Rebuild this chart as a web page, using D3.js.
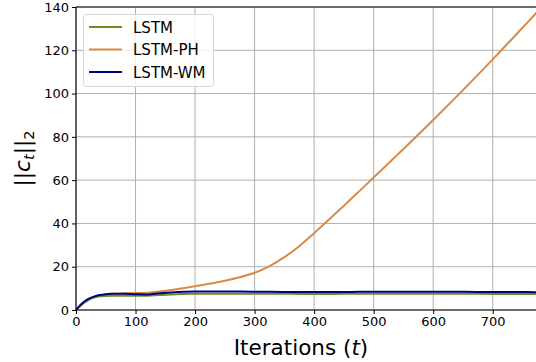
<!DOCTYPE html>
<html>
<head>
<meta charset="utf-8">
<script src="https://cdn.jsdelivr.net/npm/d3@7"></script>
<style>
  html, body { margin: 0; padding: 0; background: #fff; }
  svg { display: block; font-family: "DejaVu Sans", sans-serif; }
</style>
</head>
<body>
<svg id="chart" width="536" height="362"></svg>
<script>
// Iteration sample points
const iterations = [0, 10, 20, 30, 40, 50, 60, 80, 100, 120, 140, 160, 180, 200, 225, 250, 275, 300, 325, 350, 375, 400, 425, 450, 475, 500, 550, 600, 650, 700, 750, 775];

// ||c_t||_2 for each model
const lstm   = [0, 2.7, 4.5, 5.7, 6.3, 6.5, 6.6, 6.6, 6.6, 6.6, 6.9, 7.2, 7.4, 7.5, 7.5, 7.5, 7.5, 7.5, 7.5, 7.5, 7.4, 7.4, 7.4, 7.5, 7.5, 7.5, 7.5, 7.5, 7.5, 7.4, 7.4, 7.4];
const lstmPH = [0, 2.6, 4.6, 5.9, 6.7, 7.2, 7.5, 7.7, 7.8, 8.0, 8.5, 9.2, 10.0, 11.0, 12.2, 13.5, 15.1, 17.2, 20.3, 24.4, 29.5, 35.5, 41.8, 48.2, 54.7, 61.2, 74.4, 87.8, 101.6, 115.8, 130.4, 137.8];
const lstmWM = [0, 3.0, 5.0, 6.2, 6.9, 7.3, 7.5, 7.5, 7.3, 7.2, 7.7, 8.1, 8.4, 8.5, 8.5, 8.5, 8.5, 8.4, 8.4, 8.3, 8.3, 8.3, 8.3, 8.3, 8.4, 8.4, 8.4, 8.4, 8.4, 8.3, 8.3, 8.2];

const seriesNames = ["LSTM", "LSTM-PH", "LSTM-WM"];
const seriesColors = ["#6b8e23", "#d98a45", "#00008b"];
const xTicks = [0, 100, 200, 300, 400, 500, 600, 700];
const yTicks = [0, 20, 40, 60, 80, 100, 120, 140];

const svg = d3.select("#chart");
const margin = { left: 76, top: 7, right: 0, bottom: 52 };
const W = 536, H = 362;

const x = d3.scaleLinear().domain([0, 772.7]).range([margin.left, W - margin.right]);
const y = d3.scaleLinear().domain([0, 140]).range([H - margin.bottom, margin.top]);

svg.append("defs").append("clipPath").attr("id", "plotclip")
  .append("rect")
  .attr("x", margin.left).attr("y", margin.top)
  .attr("width", W - margin.left).attr("height", y(0) - margin.top);

// grid
const grid = svg.append("g").attr("class", "grid");
grid.selectAll("line.vx").data(xTicks).join("line")
  .attr("x1", d => x(d)).attr("x2", d => x(d))
  .attr("y1", y(0)).attr("y2", y(140))
  .attr("stroke", "#b0b0b0").attr("stroke-width", 1);
grid.selectAll("line.hy").data(yTicks).join("line")
  .attr("x1", x(0)).attr("x2", W)
  .attr("y1", d => y(d)).attr("y2", d => y(d))
  .attr("stroke", "#b0b0b0").attr("stroke-width", 1);

// series lines
const series = [lstm, lstmPH, lstmWM];
const line = d3.line()
  .x((d, i) => x(iterations[i]))
  .y(d => y(d))
  .curve(d3.curveCatmullRom.alpha(0.5));

const lines = svg.append("g").attr("clip-path", "url(#plotclip)");
// orange first, then green, blue on top
[1, 0, 2].forEach(k => {
  lines.append("path")
    .datum(series[k])
    .attr("fill", "none")
    .attr("stroke", seriesColors[k])
    .attr("stroke-width", 2)
    .attr("d", line);
});

// axes
const xAxis = d3.axisBottom(x).tickValues(xTicks).tickSize(4).tickPadding(3);
const yAxis = d3.axisLeft(y).tickValues(yTicks).tickSize(4).tickPadding(3);

const gx = svg.append("g").attr("transform", `translate(0,${y(0)})`).call(xAxis);
const gy = svg.append("g").attr("transform", `translate(${x(0)},0)`).call(yAxis);
[gx, gy].forEach(g => {
  g.select(".domain").remove();
  g.selectAll(".tick line").attr("stroke", "#000").attr("stroke-width", 1);
  g.selectAll(".tick text").attr("fill", "#000")
    .style("font-family", "DejaVu Sans").style("font-size", "13px");
});

// spines: left, bottom, top
svg.append("line").attr("x1", x(0)).attr("x2", x(0)).attr("y1", y(0)).attr("y2", y(140))
  .attr("stroke", "#000").attr("stroke-width", 1.1);
svg.append("line").attr("x1", x(0)).attr("x2", W).attr("y1", y(0)).attr("y2", y(0))
  .attr("stroke", "#000").attr("stroke-width", 1.1);
svg.append("line").attr("x1", x(0)).attr("x2", W).attr("y1", y(140)).attr("y2", y(140))
  .attr("stroke", "#000").attr("stroke-width", 1.1);

// x label
const xl = svg.append("text")
  .attr("x", 301).attr("y", 355)
  .attr("text-anchor", "middle")
  .style("font-size", "21.5px").attr("fill", "#000");
xl.append("tspan").text("Iterations (");
xl.append("tspan").attr("font-style", "italic").text("t");
xl.append("tspan").text(")");

// y label
const yl = svg.append("text")
  .attr("transform", `translate(30,${(y(0) + y(140)) / 2}) rotate(-90)`)
  .attr("text-anchor", "middle")
  .style("font-size", "21.5px").attr("fill", "#000");
yl.append("tspan").text("||");
yl.append("tspan").attr("font-style", "italic").text("c");
yl.append("tspan").attr("font-style", "italic").attr("font-size", "14.5px").attr("dy", 4).text("t");
yl.append("tspan").attr("dy", -4).text("||");
yl.append("tspan").attr("font-size", "14.5px").attr("dy", 4).text("2");

// legend
const legend = svg.append("g");
legend.append("rect")
  .attr("x", 83.5).attr("y", 14.5).attr("width", 130).attr("height", 72)
  .attr("rx", 3).attr("fill", "#fff").attr("fill-opacity", 0.8)
  .attr("stroke", "#d6d6d6").attr("stroke-width", 1);
seriesNames.forEach((name, i) => {
  const ly = 27 + i * 22.5;
  legend.append("line")
    .attr("x1", 89).attr("x2", 122).attr("y1", ly).attr("y2", ly)
    .attr("stroke", seriesColors[i]).attr("stroke-width", 2);
  legend.append("text")
    .attr("x", 133).attr("y", ly + 5.5)
    .style("font-size", "15px").attr("fill", "#000")
    .text(name);
});
</script>
</body>
</html>
